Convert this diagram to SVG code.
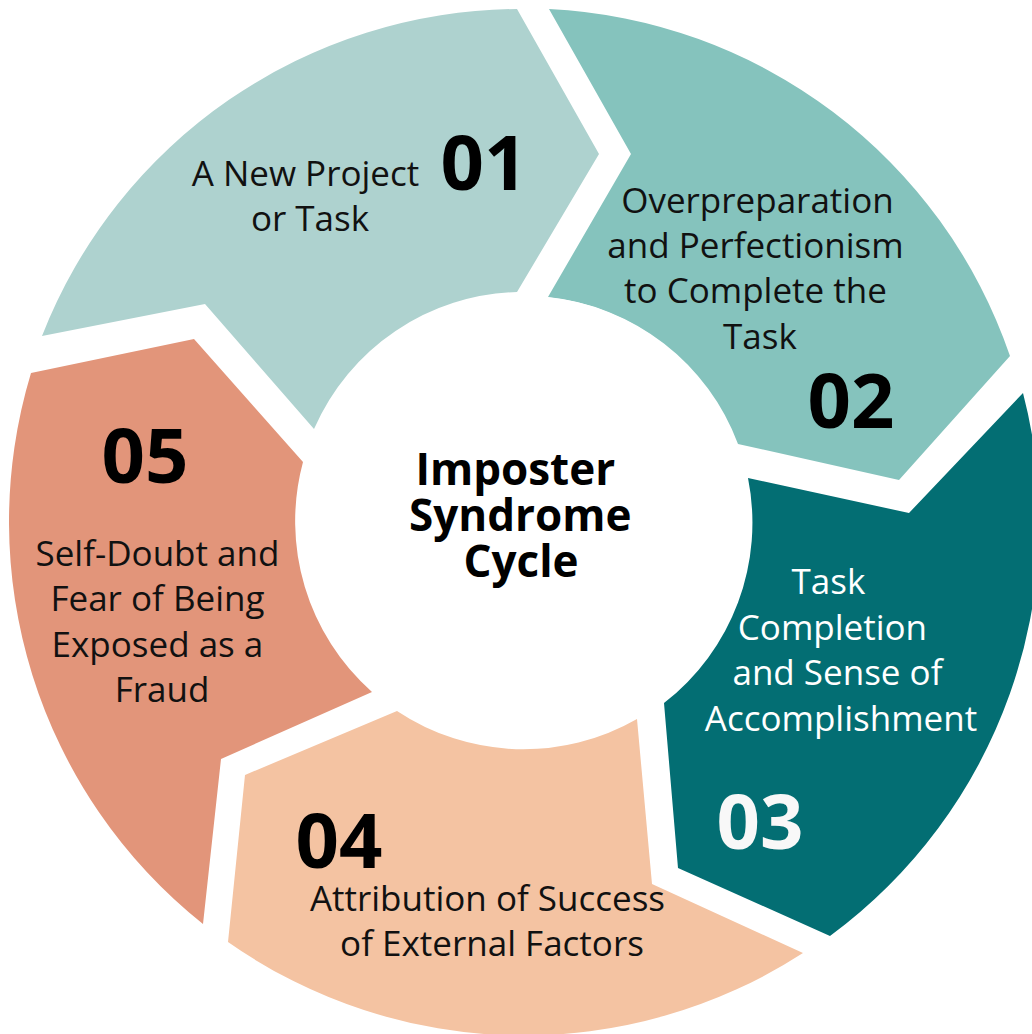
<svg xmlns="http://www.w3.org/2000/svg" width="1032" height="1034" viewBox="0 0 1032 1034">
  <style>
    .label { font-family: "Open Sans", "Noto Sans", sans-serif; font-size: 35px; fill: #111111; text-anchor: middle; }
    .label.light { fill: #FFFFFF; }
    .num { font-family: "Open Sans", "Noto Sans", sans-serif; font-size: 76px; font-weight: 700; fill: #000000; text-anchor: middle; }
    .num.light { fill: #F8F8F8; }
    .title { font-family: "Open Sans", "Noto Sans", sans-serif; font-size: 44px; font-weight: 700; fill: #000000; text-anchor: middle; }
  </style>
  <rect width="1032" height="1034" fill="#FFFFFF"/>

  <!-- ring of five arrow-shaped segments around a centre at (524,522): outer r 514, inner r 228 -->
  <g id="step1">
    <path d="M42,336 A514,514 0 0 1 517,9 L599,154 L517,292 A228,228 0 0 0 314,429 L205,304 Z" fill="#AED2CF"/>
    <text class="label">
      <tspan x="310" y="186">A New Project</tspan>
      <tspan x="310" y="231">or Task</tspan>
    </text>
    <text class="num" x="484" y="190">01</text>
  </g>

  <g id="step2">
    <path d="M549,9 A514,514 0 0 1 1010,356 L899,480 L738,444 A228,228 0 0 0 548,297 L631,154 Z" fill="#85C3BD"/>
    <text class="label">
      <tspan x="762" y="213">Overpreparation</tspan>
      <tspan x="760" y="258">and Perfectionism</tspan>
      <tspan x="760" y="303">to Complete the</tspan>
      <tspan x="760" y="349">Task</tspan>
    </text>
    <text class="num" x="851" y="428">02</text>
  </g>

  <g id="step3">
    <path d="M1023,393 A514,514 0 0 1 830,936 L678,868 L664,703 A228,228 0 0 0 748,478 L909,513 Z" fill="#036E73"/>
    <text class="label light">
      <tspan x="833" y="594">Task</tspan>
      <tspan x="837" y="640">Completion</tspan>
      <tspan x="842" y="685">and Sense of</tspan>
      <tspan x="841" y="731">Accomplishment</tspan>
    </text>
    <text class="num light" x="760" y="849">03</text>
  </g>

  <g id="step4">
    <path d="M803,953 A514,514 0 0 1 228,942 L245,775 L397,711 A228,228 0 0 0 637,719 L652,884 Z" fill="#F4C3A2"/>
    <text class="num" x="339" y="868">04</text>
    <text class="label">
      <tspan x="492" y="911">Attribution of Success</tspan>
      <tspan x="492" y="956">of External Factors</tspan>
    </text>
  </g>

  <g id="step5">
    <path d="M203,924 A514,514 0 0 1 31,373 L194,339 L303,462 A228,228 0 0 0 372,692 L221,759 Z" fill="#E2957A"/>
    <text class="num" x="145" y="483">05</text>
    <text class="label">
      <tspan x="162" y="566">Self-Doubt and</tspan>
      <tspan x="162" y="611">Fear of Being</tspan>
      <tspan x="162" y="657">Exposed as a</tspan>
      <tspan x="162" y="702">Fraud</tspan>
    </text>
  </g>

  <g id="hub">
    <circle cx="524" cy="522" r="226" fill="#FFFFFF"/>
    <text class="title">
      <tspan x="521" y="485">Imposter</tspan>
      <tspan x="526" y="531">Syndrome</tspan>
      <tspan x="521" y="577">Cycle</tspan>
    </text>
  </g>
</svg>
